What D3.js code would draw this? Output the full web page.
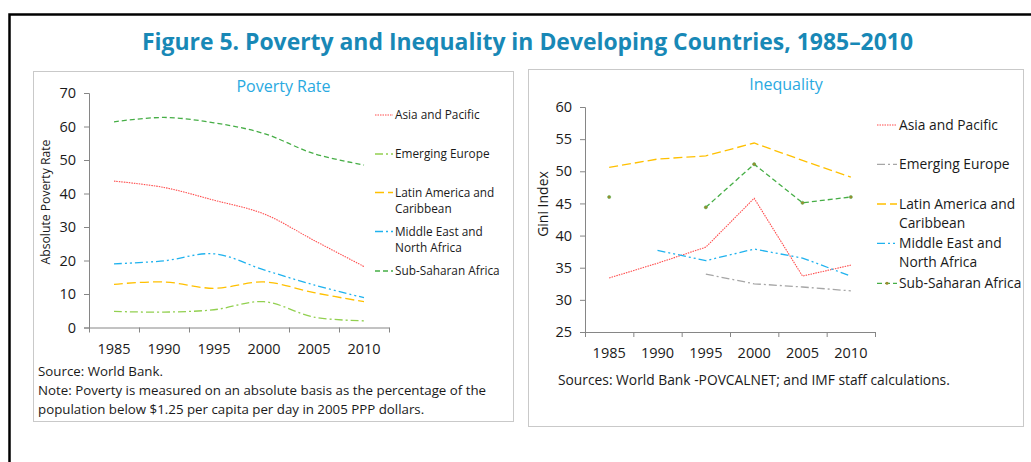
<!DOCTYPE html>
<html>
<head>
<meta charset="utf-8">
<script src="https://cdn.jsdelivr.net/npm/d3@7"></script>
<style>
  body { margin: 0; background: #fff; }
  svg text { font-family: "Open Sans", "Noto Sans", sans-serif; fill: #1a1a1a; }
</style>
</head>
<body>
<div id="chartArea"></div>
<script>
const years = ["1985", "1990", "1995", "2000", "2005", "2010"];
const regions = ["Asia and Pacific", "Emerging Europe", "Latin America and Caribbean", "Middle East and North Africa", "Sub-Saharan Africa"];

// Poverty rate (percent)
const povAsia = [43.7, 41.8, 38.0, 33.9, 26.0, 18.2];
const povEurope = [4.8, 4.6, 5.3, 7.7, 3.1, 2.0];
const povLatin = [12.9, 13.6, 11.7, 13.6, 10.4, 7.7];
const povMena = [19.0, 19.9, 22.0, 17.2, 12.7, 8.9];
const povSsa = [61.4, 62.7, 61.1, 57.9, 51.9, 48.5];
const povTicks = [0, 10, 20, 30, 40, 50, 60, 70];

// Gini index
const giniAsia = [33.4, 35.7, 38.2, 45.8, 33.7, 35.4];
const giniEurope = [null, null, 34.0, 32.5, 32.0, 31.4];
const giniLatin = [50.6, 51.9, 52.4, 54.4, 51.7, 49.1];
const giniMena = [null, 37.7, 36.1, 37.9, 36.5, 33.7];
const giniSsa = [46.0, null, 44.4, 51.1, 45.1, 46.0];
const giniTicks = [25, 30, 35, 40, 45, 50, 55, 60];

const w = 1031, h = 462;
const axisGrey = "#868686";

const svg = d3.select("#chartArea").append("svg")
    .attr("width", w)
    .attr("height", h);

// outer frame
svg.append("rect")
    .attr("x", 9.5).attr("y", 14.5)
    .attr("width", 1100).attr("height", 600)
    .attr("fill", "none")
    .attr("stroke", "#000")
    .attr("stroke-width", 2.5);

svg.append("text")
    .attr("x", 527.5).attr("y", 50)
    .attr("text-anchor", "middle")
    .attr("font-size", 24)
    .attr("font-weight", "bold")
    .attr("textLength", 771)
    .attr("lengthAdjust", "spacingAndGlyphs")
    .style("fill", "#1888b6")
    .text("Figure 5. Poverty and Inequality in Developing Countries, 1985–2010");

// panel boxes
svg.append("rect").attr("x", 33.5).attr("y", 71.5).attr("width", 480).attr("height", 350)
    .attr("fill", "none").attr("stroke", "#c9c9c9");
svg.append("rect").attr("x", 528.5).attr("y", 69.5).attr("width", 495).attr("height", 357)
    .attr("fill", "none").attr("stroke", "#c9c9c9");

const styles = [
    {color: "#ff4d4d", dash: "1.5,1", width: 1.1},
    {color: "#92d050", dash: "8,3,2,3", width: 1.3},
    {color: "#ffc000", dash: "9,4", width: 1.3},
    {color: "#1fb2ee", dash: "8,3,2,3,2,3", width: 1.3},
    {color: "#46ae46", dash: "5,3", width: 1.3}
];

function drawPanel(opt) {
    const g = svg.append("g");
    const x = d3.scaleBand().domain(years).range([opt.x0, opt.x1]);
    const y = d3.scaleLinear().domain(opt.domain).range([opt.y0, opt.y1]);

    const yAxis = d3.axisLeft(y).tickValues(opt.ticks).tickSize(5).tickPadding(8);
    const gy = g.append("g").attr("transform", `translate(${opt.x0},0)`).call(yAxis);
    gy.selectAll("text").attr("font-size", 14.5);

    const xAxis = d3.axisBottom(x).tickSize(0).tickPadding(16);
    const gx = g.append("g").attr("transform", `translate(0,${opt.y0})`).call(xAxis);
    gx.selectAll("text").attr("font-size", 14.5);
    // tick marks at band edges
    const edges = years.map(d => x(d)).concat([opt.x1]);
    g.selectAll(".edge" + opt.id).data(edges).enter().append("line")
        .attr("x1", d => d + 0.5).attr("x2", d => d + 0.5)
        .attr("y1", opt.y0).attr("y2", opt.y0 + 5)
        .attr("stroke", axisGrey);
    g.selectAll(".domain").attr("stroke", axisGrey);
    g.selectAll(".tick line").attr("stroke", axisGrey);

    // axis title
    g.append("text")
        .attr("transform", `translate(${opt.ytX},${opt.ytY}) rotate(-90)`)
        .attr("text-anchor", "middle")
        .attr("font-size", opt.ytSize)
        .text(opt.yTitle);

    // panel title
    g.append("text")
        .attr("x", opt.titleX).attr("y", opt.titleY)
        .attr("text-anchor", "middle")
        .attr("font-size", 16)
        .style("fill", "#29a9e1")
        .text(opt.title);

    const line = d3.line()
        .defined(d => d != null)
        .x((d, i) => x(years[i]) + x.bandwidth() / 2)
        .y(d => y(d))
        .curve(opt.curve);

    opt.series.forEach((s, k) => {
        const st = opt.styles[k];
        g.append("path")
            .attr("d", line(s))
            .attr("fill", "none")
            .attr("stroke", st.color)
            .attr("stroke-width", st.width)
            .attr("stroke-dasharray", st.dash);
    });

    // legend
    let ly = opt.legY;
    regions.forEach((r, k) => {
        const st = opt.styles[k];
        const lines = opt.legLines[k];
        g.append("line")
            .attr("x1", opt.legX0).attr("x2", opt.legX1)
            .attr("y1", ly).attr("y2", ly)
            .attr("stroke", st.color)
            .attr("stroke-width", st.width)
            .attr("stroke-dasharray", st.dash);
        if (opt.markerIdx === k) {
            g.append("circle").attr("cx", (opt.legX0 + opt.legX1) / 2).attr("cy", ly).attr("r", 1.5)
                .attr("fill", "#9c8a2e");
        }
        const t = g.append("text")
            .attr("x", opt.legX1 + 2).attr("y", ly)
            .attr("font-size", opt.legSize);
        lines.forEach((ln, j) => {
            t.append("tspan").attr("x", opt.legX1 + 2).attr("dy", j === 0 ? "0.35em" : opt.legLH).text(ln);
        });
        ly += opt.legGaps[k];
    });
    return {g, x, y};
}

const left = drawPanel({
    id: "L",
    x0: 89, x1: 389, y0: 327.5, y1: 93, domain: [0, 70], ticks: povTicks,
    yTitle: "Absolute Poverty Rate", ytX: 50, ytY: 202, ytSize: 12.2,
    title: "Poverty Rate", titleX: 283.5, titleY: 92,
    series: [povAsia, povEurope, povLatin, povMena, povSsa],
    styles: styles,
    curve: d3.curveCatmullRom,
    legX0: 375, legX1: 393, legY: 115, legSize: 11.8, legLH: 16.6,
    legLines: [["Asia and Pacific"], ["Emerging Europe"], ["Latin America and", "Caribbean"], ["Middle East and", "North Africa"], ["Sub-Saharan Africa"]],
    legGaps: [39, 38.5, 39, 39.5, 0]
});

const rightStyles = styles.map(s => Object.assign({}, s));
rightStyles[1] = {color: "#a6a6a6", dash: "8,3,2,3", width: 1.3};

const right = drawPanel({
    id: "R",
    x0: 585, x1: 875, y0: 332, y1: 107, domain: [25, 60], ticks: giniTicks,
    yTitle: "Gini Index", ytX: 548, ytY: 204, ytSize: 14,
    title: "Inequality", titleX: 786, titleY: 90,
    series: [giniAsia, giniEurope, giniLatin, giniMena, giniSsa],
    styles: rightStyles,
    curve: d3.curveLinear,
    legX0: 877, legX1: 897, legY: 125, legSize: 13.8, legLH: 19.3,
    legLines: [["Asia and Pacific"], ["Emerging Europe"], ["Latin America and", "Caribbean"], ["Middle East and", "North Africa"], ["Sub-Saharan Africa"]],
    legGaps: [39.3, 39.7, 39.3, 40, 0],
    markerIdx: 4
});

// Sub-Saharan markers
right.g.selectAll(".ssaDot")
    .data(giniSsa.map((v, i) => ({v, yr: years[i]})).filter(d => d.v != null))
    .enter().append("circle")
    .attr("cx", d => right.x(d.yr) + right.x.bandwidth() / 2)
    .attr("cy", d => right.y(d.v))
    .attr("r", 1.6)
    .attr("fill", "#9c8a2e")
    .attr("stroke", "#46ae46")
    .attr("stroke-width", 0.5);

// notes
const notes = svg.append("g");
notes.append("text").attr("x", 38).attr("y", 376).attr("font-size", 13.3).text("Source: World Bank.");
notes.append("text").attr("x", 38).attr("y", 395).attr("font-size", 13.3).text("Note: Poverty is measured on an absolute basis as the percentage of the");
notes.append("text").attr("x", 38).attr("y", 414).attr("font-size", 13.3).text("population below $1.25 per capita per day in 2005 PPP dollars.");
svg.append("text").attr("x", 558).attr("y", 385).attr("font-size", 13.8).text("Sources: World Bank -POVCALNET; and IMF staff calculations.");
</script>
</body>
</html>
